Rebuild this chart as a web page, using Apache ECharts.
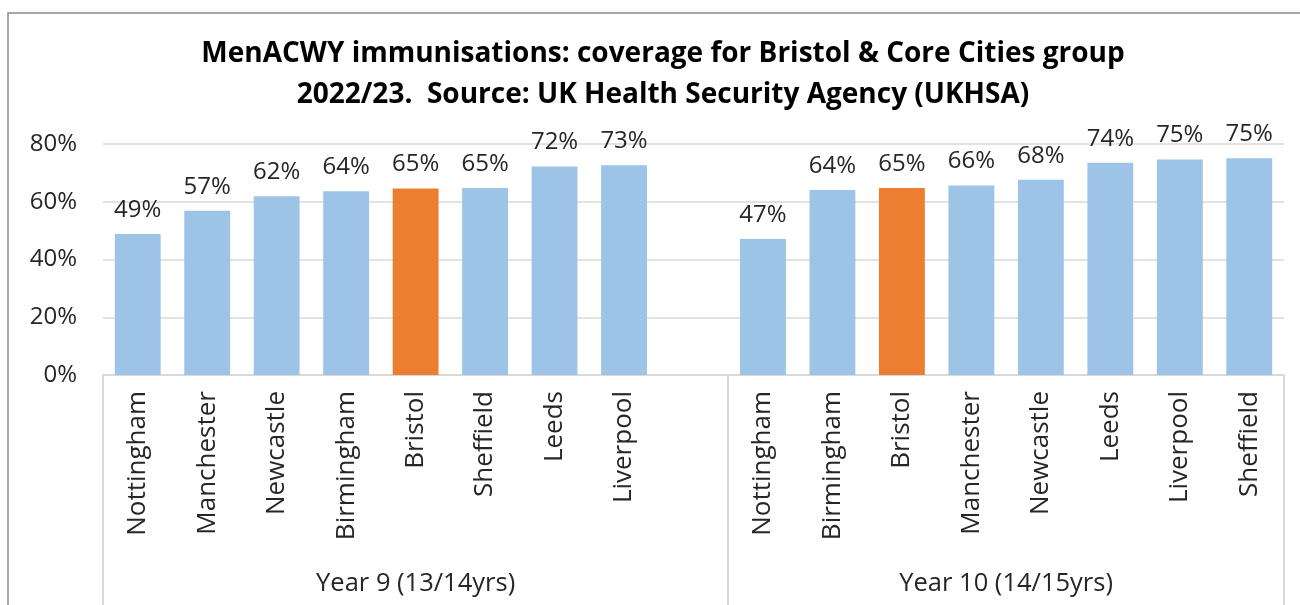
<!DOCTYPE html>
<html>
<head>
<meta charset="utf-8">
<script src="https://cdn.jsdelivr.net/npm/echarts@6/dist/echarts.min.js"></script>
<style>
html,body{margin:0;padding:0;background:#fff;}
#chart{width:1300px;height:605px;}
</style>
</head>
<body>
<div id="chart"></div>
<script>
var titleText = 'MenACWY immunisations: coverage for Bristol & Core Cities group\n2022/23.  Source: UK Health Security Agency (UKHSA)';
var groupNames = ['Year 9 (13/14yrs)', 'Year 10 (14/15yrs)'];
var year9Cities = ['Nottingham', 'Manchester', 'Newcastle', 'Birmingham', 'Bristol', 'Sheffield', 'Leeds', 'Liverpool'];
var year9Values = [48.8, 56.9, 61.9, 63.6, 64.6, 64.8, 72.2, 72.6];
var year10Cities = ['Nottingham', 'Birmingham', 'Bristol', 'Manchester', 'Newcastle', 'Leeds', 'Liverpool', 'Sheffield'];
var year10Values = [47.1, 64.1, 64.8, 65.6, 67.6, 73.5, 74.6, 75.1];
var yTicks = [0, 20, 40, 60, 80];
var highlightCity = 'Bristol';

var blue = '#9DC3E6', orange = '#ED7D31';
var FONT = '"Open Sans", "Noto Sans", sans-serif';

// build combined category axis: Year 9 group has one blank trailing slot
var categories = year9Cities.concat(['']).concat(year10Cities);
var values = year9Values.concat([null]).concat(year10Values);
var nYear9Slots = year9Cities.length + 1;
var nSlots = categories.length;

var barData = values.map(function (v, i) {
  return {
    value: v,
    itemStyle: { color: categories[i] === highlightCity ? orange : blue }
  };
});

var groupCenters = [nYear9Slots / 2, nYear9Slots + year10Cities.length / 2];
var groupBounds = [0, nYear9Slots, nSlots];

var chart = echarts.init(document.getElementById('chart'));
chart.setOption({
  animation: false,
  backgroundColor: '#fff',
  textStyle: { fontFamily: FONT },
  graphic: [{
    type: 'rect',
    shape: { x: 8, y: 13, width: 1400, height: 700 },
    style: { fill: 'none', stroke: '#8c8c8c', lineWidth: 1.5 },
    silent: true, z: -1
  }],
  title: {
    text: titleText,
    left: 658, top: 29, textAlign: 'center',
    textStyle: { fontFamily: FONT, fontSize: 28, fontWeight: 'bold', color: '#000', lineHeight: 41 }
  },
  grid: { left: 103, right: 16, top: 144, bottom: 230, outerBoundsMode: 'none', containLabel: false },
  xAxis: [{
    type: 'category',
    data: categories,
    axisLine: { lineStyle: { color: '#D9D9D9', width: 2 } },
    axisTick: { show: false },
    axisLabel: { interval: 0, rotate: 90, margin: 16, fontSize: 26, color: '#262626', fontFamily: FONT }
  }, {
    type: 'value',
    position: 'bottom',
    min: 0, max: nSlots,
    splitLine: { show: false },
    axisLine: { show: false },
    axisTick: { show: true, customValues: groupBounds, length: 232, lineStyle: { color: '#D9D9D9', width: 2 } },
    axisLabel: {
      customValues: groupCenters,
      margin: 196,
      fontSize: 25.5, color: '#262626', fontFamily: FONT,
      formatter: function (v) {
        var idx = groupCenters.indexOf(v);
        return idx >= 0 ? groupNames[idx] : '';
      }
    }
  }],
  yAxis: {
    type: 'value',
    min: yTicks[0], max: yTicks[yTicks.length - 1], interval: yTicks[1] - yTicks[0],
    axisLine: { show: false },
    axisTick: { show: false },
    splitLine: { lineStyle: { color: '#D9D9D9', width: 1.5 } },
    axisLabel: { margin: 26, fontSize: 24, color: '#262626', fontFamily: FONT, formatter: '{value}%' }
  },
  series: [{
    type: 'bar',
    xAxisIndex: 0,
    data: barData,
    barCategoryGap: '34%',
    label: {
      show: true, position: 'top', distance: 12,
      fontSize: 24, color: '#262626', fontFamily: FONT,
      formatter: function (p) { return p.value == null ? '' : Math.round(p.value) + '%'; }
    }
  }]
});
</script>
</body>
</html>
